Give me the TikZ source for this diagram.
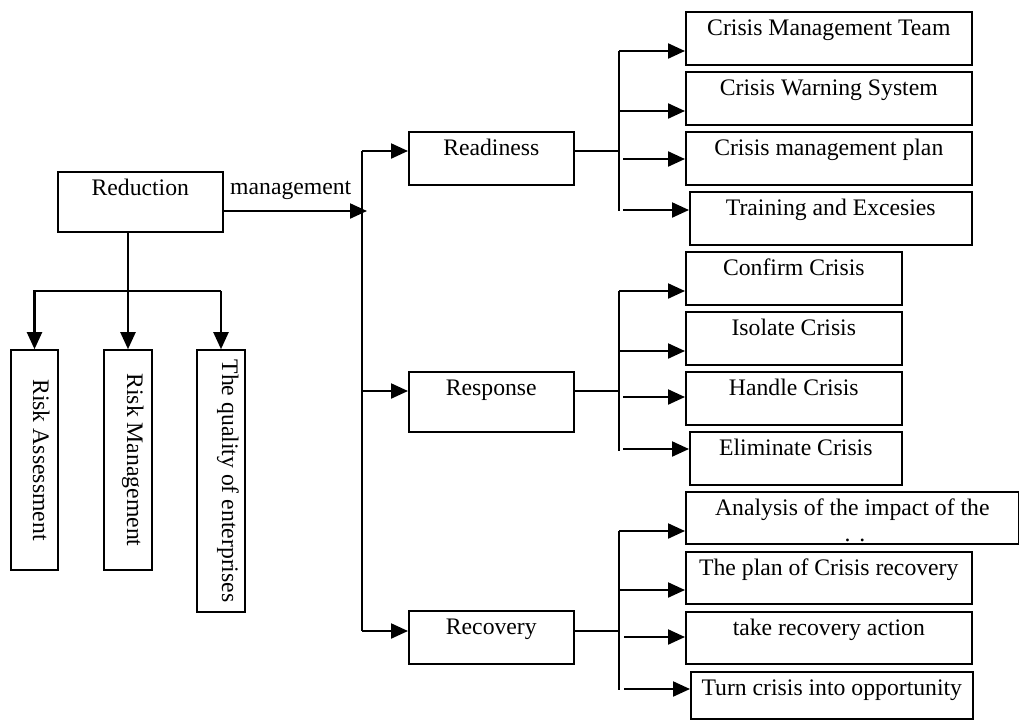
\documentclass[tikz,border=0pt]{standalone}
\usepackage{fontspec}
\setmainfont{Liberation Serif}
\usetikzlibrary{arrows.meta}
\begin{document}
\begin{tikzpicture}[x=1pt,y=-1pt,
  font=\fontsize{23.7}{28}\selectfont,
  box/.style={draw, line width=1.6pt, anchor=north west, inner xsep=0pt, inner ysep=0pt, text height=24pt},
  vbox/.style={draw, line width=1.6pt, rotate=-90, inner xsep=0pt, inner ysep=0pt},
  arr/.style={line width=2.2pt, -{Triangle[length=17pt,width=15pt]}},
  ln/.style={line width=1.8pt}
]
\useasboundingbox (0,0) rectangle (1019,720);

% left and middle boxes
\node[box, minimum width=165pt, text depth=36pt] (red) at (57,171) {Reduction};
\node[box, minimum width=165pt, text depth=29pt] (ready) at (408,131) {Readiness};
\node[box, minimum width=165pt, text depth=36pt] (resp) at (408,371) {Response};
\node[box, minimum width=165pt, text depth=29pt] (recov) at (408,610) {Recovery};

% vertical boxes
\node[vbox, minimum width=220pt, text height=25pt, text depth=22pt] (ra) at (34.5,460) {Risk Assessment};
\node[vbox, minimum width=220pt, text height=25pt, text depth=23pt] (rm) at (128,460) {Risk Management};
\node[vbox, minimum width=262pt, text height=23pt, text depth=25pt] (qe) at (221,481) {The quality of enterprises};

% right boxes
\node[box, minimum width=286pt, text depth=29pt] (cmt) at (685,11) {Crisis Management Team};
\node[box, minimum width=286pt, text depth=29pt] (cws) at (685,71) {Crisis Warning System};
\node[box, minimum width=286pt, text depth=29pt] (cmp) at (685,131) {Crisis management plan};
\node[box, minimum width=282pt, text depth=29pt] (te) at (689,191) {Training and Excesies};

\node[box, minimum width=216pt, text depth=29pt] (conf) at (685,251) {Confirm Crisis};
\node[box, minimum width=216pt, text depth=29pt] (iso) at (685,311) {Isolate Crisis};
\node[box, minimum width=216pt, text depth=29pt] (hand) at (685,371) {Handle Crisis};
\node[box, minimum width=212pt, text depth=29pt] (elim) at (689,431) {Eliminate Crisis};

\node[box, minimum width=333pt, text depth=28pt] (anal) at (685,491) {Analysis of the impact of the};
\node[anchor=base, inner sep=0pt] (dots) at (855,541) {.\hspace{9pt}.};
\node[box, minimum width=286pt, text depth=28pt] (plan) at (685,551) {The plan of Crisis recovery};
\node[box, minimum width=286pt, text depth=28pt] (take) at (685,611) {take recovery action};
\node[box, minimum width=282pt, text depth=23pt] (turn) at (690,671) {Turn crisis into opportunity};

% management label and arrow
\node[anchor=base west, inner sep=0pt] (mlab) at (230,194) {management};
\coordinate (jt) at (367,211);
\draw[arr] (red.east |- jt) -- (jt);

% main vertical bus
\coordinate (mt) at (362,151);
\coordinate (mr) at (362,391);
\coordinate (mb) at (362,631);
\draw[ln] (mt) -- (mb);
\draw[arr] (mt) -- (ready.west |- mt);
\draw[arr] (mr) -- (resp.west |- mr);
\draw[arr] (mb) -- (recov.west |- mb);

% reduction down
\coordinate (dt) at (128,291);
\draw[arr] (dt |- red.south) -- (rm.west);
\draw[arr] (qe.west |- dt) -- (ra.west |- dt) -- (ra.west);
\draw[arr] (qe.west |- dt) -- (qe.west);

% readiness bus
\coordinate (b1t) at (619,51);
\coordinate (b1m) at (619,151);
\coordinate (b1b) at (619,211);
\coordinate (b1a) at (619,111);
\coordinate (b1c) at (623,159);
\coordinate (b1d) at (623,210);
\draw[ln] (ready.east |- b1m) -- (b1m);
\draw[ln] (b1t) -- (b1b);
\draw[arr] (b1t) -- (cmt.west |- b1t);
\draw[arr] (b1a) -- (cws.west |- b1a);
\draw[arr] (b1c) -- (cmp.west |- b1c);
\draw[arr] (b1d) -- (te.west |- b1d);

% response bus
\coordinate (b2t) at (619,291);
\coordinate (b2m) at (619,391);
\coordinate (b2b) at (619,451);
\coordinate (b2a) at (619,351);
\coordinate (b2c) at (623,397);
\coordinate (b2d) at (623,449);
\draw[ln] (resp.east |- b2m) -- (b2m);
\draw[ln] (b2t) -- (b2b);
\draw[arr] (b2t) -- (conf.west |- b2t);
\draw[arr] (b2a) -- (iso.west |- b2a);
\draw[arr] (b2c) -- (hand.west |- b2c);
\draw[arr] (b2d) -- (elim.west |- b2d);

% recovery bus
\coordinate (b3t) at (619,531);
\coordinate (b3m) at (619,631);
\coordinate (b3b) at (619,690);
\coordinate (b3a) at (619,590);
\coordinate (b3c) at (624,637);
\coordinate (b3d) at (624,689);
\draw[ln] (recov.east |- b3m) -- (b3m);
\draw[ln] (b3t) -- (b3b);
\draw[arr] (b3t) -- (anal.west |- b3t);
\draw[arr] (b3a) -- (plan.west |- b3a);
\draw[arr] (b3c) -- (take.west |- b3c);
\draw[arr] (b3d) -- (turn.west |- b3d);
\end{tikzpicture}
\end{document}
